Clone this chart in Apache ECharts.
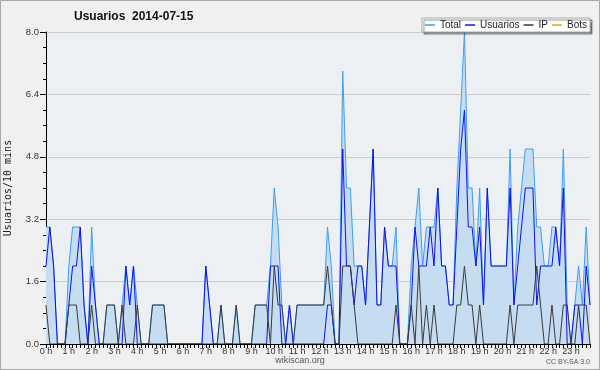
<!DOCTYPE html>
<html>
<head>
<meta charset="utf-8">
<script src="https://cdn.jsdelivr.net/npm/echarts@6/dist/echarts.min.js"></script>
<style>
  html, body { margin: 0; padding: 0; background: #f0f0f0; }
  #chart-container { width: 600px; height: 370px; }
</style>
</head>
<body>
<div id="chart-container"></div>
<script>
// one value every 10 minutes, 6 per hour
const hourLabels = ['0 h', '1 h', '2 h', '3 h', '4 h', '5 h', '6 h', '7 h', '8 h', '9 h', '10 h', '11 h',
    '12 h', '13 h', '14 h', '15 h', '16 h', '17 h', '18 h', '19 h', '20 h', '21 h', '22 h', '23 h'];

const total = [
    3, 3, 2, 0, 0, 0,   2, 3, 3, 3, 1, 0,   3, 1, 0, 0, 1, 1,   1, 0, 1, 2, 1, 2,
    1, 0, 0, 0, 1, 1,   1, 1, 0, 0, 0, 0,   0, 0, 0, 0, 0, 0,   2, 1, 0, 0, 1, 0,
    0, 0, 1, 0, 0, 0,   0, 1, 1, 1, 1, 2,   4, 3, 1, 0, 1, 0,   1, 1, 1, 1, 1, 1,
    1, 1, 3, 2, 0, 0,   7, 4, 4, 2, 2, 2,   1, 3, 5, 1, 1, 3,   2, 2, 3, 0, 0, 0,
    2, 3, 4, 2, 3, 3,   3, 4, 2, 2, 1, 1,   4, 6, 8, 4, 4, 2,   4, 1, 4, 2, 2, 2,
    2, 2, 5, 1, 3, 4,   5, 5, 5, 3, 3, 2,   2, 3, 3, 2, 5, 1,   0, 1, 2, 1, 3, 1
];

const usuarios = [
    2, 3, 2, 0, 0, 0,   1, 2, 2, 3, 1, 0,   2, 1, 0, 0, 0, 0,   0, 0, 0, 2, 1, 2,
    0, 0, 0, 0, 0, 0,   0, 0, 0, 0, 0, 0,   0, 0, 0, 0, 0, 0,   2, 1, 0, 0, 0, 0,
    0, 0, 0, 0, 0, 0,   0, 0, 0, 0, 0, 2,   2, 2, 0, 0, 1, 0,   0, 0, 0, 0, 0, 0,
    0, 0, 1, 1, 0, 0,   5, 2, 2, 1, 2, 2,   1, 3, 5, 1, 1, 3,   2, 2, 2, 0, 0, 0,
    1, 3, 2, 2, 2, 3,   2, 4, 2, 2, 1, 1,   3, 5, 6, 3, 3, 2,   3, 1, 4, 2, 2, 2,
    2, 2, 4, 1, 2, 3,   4, 4, 4, 1, 2, 2,   2, 2, 3, 2, 4, 0,   0, 1, 1, 0, 2, 1
];

const ip = [
    1, 0, 0, 0, 0, 0,   1, 1, 1, 0, 0, 0,   1, 0, 0, 0, 1, 1,   1, 0, 1, 0, 0, 0,
    1, 0, 0, 0, 1, 1,   1, 1, 0, 0, 0, 0,   0, 0, 0, 0, 0, 0,   0, 0, 0, 0, 1, 0,
    0, 0, 1, 0, 0, 0,   0, 1, 1, 1, 1, 0,   2, 1, 1, 0, 0, 0,   1, 1, 1, 1, 1, 1,
    1, 1, 2, 1, 0, 0,   2, 2, 2, 1, 0, 0,   0, 0, 0, 0, 0, 0,   0, 0, 1, 0, 0, 0,
    1, 0, 2, 0, 1, 0,   1, 0, 0, 0, 0, 0,   1, 1, 2, 1, 1, 0,   1, 0, 0, 0, 0, 0,
    0, 0, 1, 0, 1, 1,   1, 1, 1, 2, 1, 0,   0, 1, 0, 0, 1, 1,   0, 0, 1, 1, 1, 0
];

const bots = [
    0, 0, 0, 0, 0, 0,   0, 0, 0, 0, 0, 0,   0, 0, 0, 0, 0, 0,   0, 0, 0, 0, 0, 0,
    0, 0, 0, 0, 0, 0,   0, 0, 0, 0, 0, 0,   0, 0, 0, 0, 0, 0,   0, 0, 0, 0, 0, 0,
    0, 0, 0, 0, 0, 0,   0, 0, 0, 0, 0, 0,   0, 0, 0, 0, 0, 0,   0, 0, 0, 0, 0, 0,
    0, 0, 0, 0, 0, 0,   0, 0, 0, 0, 0, 0,   0, 0, 0, 0, 0, 0,   0, 0, 0, 0, 0, 0,
    0, 0, 0, 0, 0, 0,   0, 0, 0, 0, 0, 0,   0, 0, 0, 0, 0, 0,   0, 0, 0, 0, 0, 0,
    0, 0, 0, 0, 0, 0,   0, 0, 0, 0, 0, 0,   0, 0, 0, 0, 0, 0,   0, 0, 0, 0, 0, 0
];

const totalColor = '#3d9ef0';
const usuariosColor = '#1010f0';
const ipColor = '#3a3a3a';
const botsColor = '#ff9900';

// category names: 0:00, 0:10 ... 23:50
const slots = [];
hourLabels.forEach(function (h, k) {
    for (let m = 0; m < 60; m += 10) {
        slots.push(k + ':' + (m === 0 ? '00' : m));
    }
});

var chartDom = document.getElementById('chart-container');
var myChart = echarts.init(chartDom);

function lineSeries(name, data, color, z) {
    return {
        name: name,
        type: 'line',
        data: data,
        symbol: 'none',
        z: z,
        lineStyle: {color: color, width: 1},
        itemStyle: {color: color}
    };
}

var totalSeries = lineSeries('Total', total, totalColor, 2);
totalSeries.areaStyle = {color: '#c6ddf1', opacity: 1};

var option = {
    animation: false,
    backgroundColor: '#f0f0f0',
    title: {
        text: 'Usuarios  2014-07-15',
        left: 69,
        top: 6,
        textStyle: {fontFamily: 'Liberation Sans', fontSize: 12, fontWeight: 'bold', color: '#111'}
    },
    legend: {
        right: 10,
        top: 18,
        padding: [2, 3, 2, 3],
        itemGap: 4,
        itemWidth: 10,
        itemHeight: 1.5,
        icon: 'rect',
        backgroundColor: '#ffffff',
        borderColor: '#aaaaaa',
        borderWidth: 1,
        shadowColor: 'rgba(0,0,0,0.45)',
        shadowBlur: 1,
        shadowOffsetX: 2,
        shadowOffsetY: 2,
        textStyle: {fontFamily: 'Liberation Sans', fontSize: 10, color: '#222'},
        data: [
            {name: 'Total', itemStyle: {color: totalColor}},
            {name: 'Usuarios', itemStyle: {color: usuariosColor}},
            {name: 'IP', itemStyle: {color: ipColor}},
            {name: 'Bots', itemStyle: {color: botsColor}}
        ]
    },
    grid: {
        left: 46, right: 10, top: 32, bottom: 26,
        containLabel: false,
        outerBoundsMode: 'none',
        show: true, backgroundColor: '#edf0f3', borderWidth: 0
    },
    xAxis: {
        type: 'category',
        data: slots,
        boundaryGap: false,
        z: 10,
        axisLine: {lineStyle: {color: '#000', width: 1}},
        axisTick: {interval: 0, length: 4, lineStyle: {color: '#000'}},
        axisLabel: {
            interval: 5, margin: 3, fontSize: 9, fontFamily: 'Liberation Sans', color: '#333',
            formatter: function (v, i) { return hourLabels[i / 6]; }
        },
        splitLine: {show: false}
    },
    yAxis: {
        type: 'value',
        min: 0, max: 8, interval: 1.6,
        name: 'Usuarios/10 mins',
        nameLocation: 'middle',
        nameGap: 33,
        nameTextStyle: {fontFamily: 'DejaVu Sans Mono', fontSize: 10, color: '#222'},
        axisLine: {show: true, lineStyle: {color: '#000'}},
        axisTick: {show: true, length: 6, lineStyle: {color: '#000'}},
        minorTick: {show: true, splitNumber: 4, length: 3, lineStyle: {color: '#000'}},
        axisLabel: {
            margin: 7, fontSize: 9.5, fontFamily: 'Liberation Sans', color: '#333',
            formatter: function (v) { return v.toFixed(1); }
        },
        splitLine: {lineStyle: {color: '#cccccc'}}
    },
    graphic: [
        {type: 'rect', shape: {x: 0.5, y: 0.5, width: 599, height: 369},
            style: {fill: 'none', stroke: '#a8a8a8', lineWidth: 1}, silent: true},
        {type: 'text', left: 'center', top: 356,
            style: {text: 'wikiscan.org', fill: '#555', font: '9px "Liberation Sans"'}},
        {type: 'text', right: 10, top: 359,
            style: {text: 'CC BY-SA 3.0', fill: '#555', font: '7px "Liberation Sans"'}}
    ],
    series: [
        totalSeries,
        lineSeries('Usuarios', usuarios, usuariosColor, 3),
        lineSeries('IP', ip, ipColor, 4),
        lineSeries('Bots', bots, botsColor, 1)
    ]
};

option && myChart.setOption(option);
</script>
</body>
</html>
